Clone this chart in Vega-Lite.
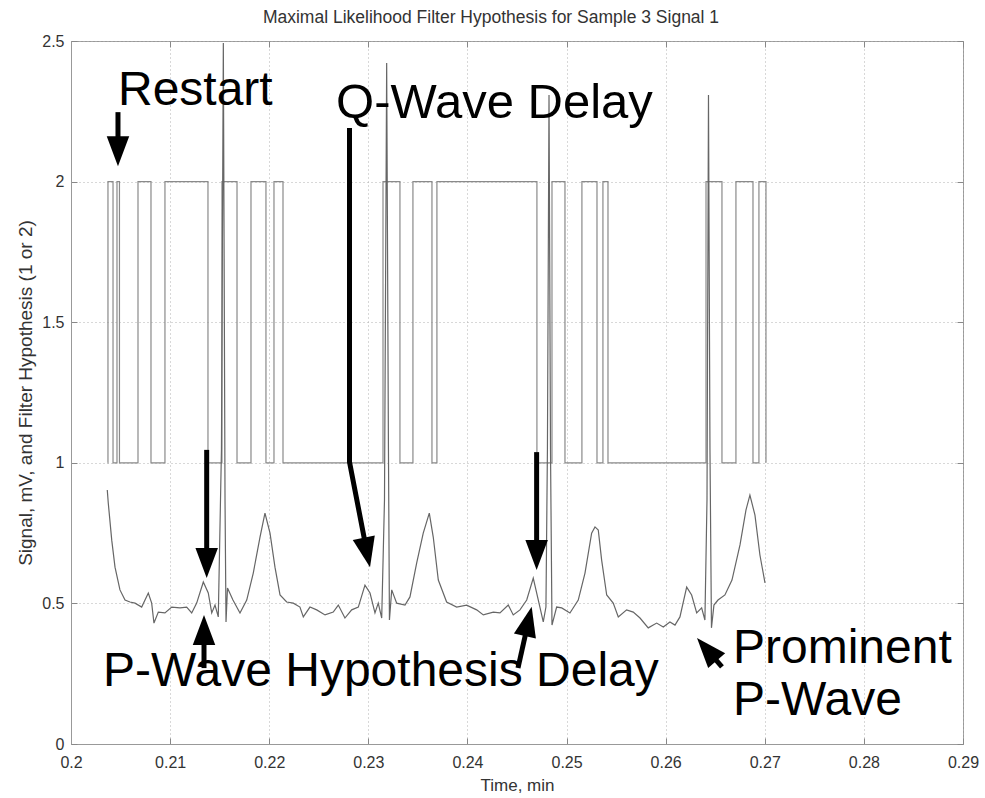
{
  "$schema": "https://vega.github.io/schema/vega-lite/v6.json",
  "width": 892,
  "height": 703,
  "autosize": {"type": "none"},
  "padding": {"left": 71, "top": 41, "right": 22, "bottom": 54},
  "background": "white",
  "title": {"text": "Maximal Likelihood Filter Hypothesis for Sample 3 Signal 1", "fontSize": 17.5, "fontWeight": "normal", "color": "#333333", "font": "Liberation Sans", "offset": 7, "dx": -26},
  "datasets": {
    "hyp": [
      {"t": 0.20370, "v": 1}, {"t": 0.20373, "v": 2}, {"t": 0.20424, "v": 1}, {"t": 0.20464, "v": 2}, {"t": 0.20489, "v": 1},
      {"t": 0.20676, "v": 2}, {"t": 0.20807, "v": 1}, {"t": 0.20948, "v": 2}, {"t": 0.21382, "v": 1}, {"t": 0.21523, "v": 2},
      {"t": 0.21675, "v": 1}, {"t": 0.21816, "v": 2}, {"t": 0.21967, "v": 1}, {"t": 0.22048, "v": 2}, {"t": 0.22139, "v": 1},
      {"t": 0.23148, "v": 2}, {"t": 0.23319, "v": 1}, {"t": 0.23450, "v": 2}, {"t": 0.23642, "v": 1}, {"t": 0.23692, "v": 2},
      {"t": 0.24701, "v": 1}, {"t": 0.24853, "v": 2}, {"t": 0.24984, "v": 1}, {"t": 0.25155, "v": 2}, {"t": 0.25307, "v": 1},
      {"t": 0.25367, "v": 2}, {"t": 0.25418, "v": 1}, {"t": 0.26407, "v": 2}, {"t": 0.26568, "v": 1}, {"t": 0.26709, "v": 2},
      {"t": 0.26881, "v": 1}, {"t": 0.26941, "v": 2}, {"t": 0.27012, "v": 1}
    ],
    "sig": [
      {"t": 0.20366, "v": 0.903}, {"t": 0.20376, "v": 0.857}, {"t": 0.20411, "v": 0.725}, {"t": 0.20444, "v": 0.629}, {"t": 0.20494, "v": 0.548},
      {"t": 0.20545, "v": 0.512}, {"t": 0.20595, "v": 0.505}, {"t": 0.20646, "v": 0.501}, {"t": 0.20713, "v": 0.487}, {"t": 0.20780, "v": 0.537},
      {"t": 0.20814, "v": 0.501}, {"t": 0.20837, "v": 0.430}, {"t": 0.20881, "v": 0.469}, {"t": 0.20948, "v": 0.466}, {"t": 0.21016, "v": 0.487},
      {"t": 0.21100, "v": 0.484}, {"t": 0.21167, "v": 0.487}, {"t": 0.21218, "v": 0.466}, {"t": 0.21268, "v": 0.501}, {"t": 0.21335, "v": 0.576},
      {"t": 0.21385, "v": 0.537}, {"t": 0.21420, "v": 0.466}, {"t": 0.21453, "v": 0.494}, {"t": 0.21486, "v": 0.452}, {"t": 0.21518, "v": 1.046},
      {"t": 0.21537, "v": 2.493}, {"t": 0.21554, "v": 0.868}, {"t": 0.21564, "v": 0.434}, {"t": 0.21579, "v": 0.555}, {"t": 0.21634, "v": 0.512},
      {"t": 0.21705, "v": 0.466}, {"t": 0.21773, "v": 0.512}, {"t": 0.21839, "v": 0.608}, {"t": 0.21907, "v": 0.736}, {"t": 0.21957, "v": 0.821},
      {"t": 0.22008, "v": 0.750}, {"t": 0.22058, "v": 0.629}, {"t": 0.22109, "v": 0.530}, {"t": 0.22176, "v": 0.505}, {"t": 0.22243, "v": 0.501},
      {"t": 0.22310, "v": 0.487}, {"t": 0.22344, "v": 0.452}, {"t": 0.22411, "v": 0.487}, {"t": 0.22479, "v": 0.477}, {"t": 0.22563, "v": 0.459},
      {"t": 0.22646, "v": 0.469}, {"t": 0.22697, "v": 0.494}, {"t": 0.22764, "v": 0.448}, {"t": 0.22832, "v": 0.477}, {"t": 0.22899, "v": 0.487},
      {"t": 0.22966, "v": 0.565}, {"t": 0.23017, "v": 0.537}, {"t": 0.23067, "v": 0.466}, {"t": 0.23100, "v": 0.501}, {"t": 0.23135, "v": 0.448},
      {"t": 0.23163, "v": 0.868}, {"t": 0.23185, "v": 2.422}, {"t": 0.23203, "v": 1.046}, {"t": 0.23213, "v": 0.441}, {"t": 0.23236, "v": 0.548},
      {"t": 0.23286, "v": 0.501}, {"t": 0.23370, "v": 0.494}, {"t": 0.23420, "v": 0.523}, {"t": 0.23488, "v": 0.644}, {"t": 0.23554, "v": 0.750},
      {"t": 0.23615, "v": 0.821}, {"t": 0.23655, "v": 0.736}, {"t": 0.23706, "v": 0.583}, {"t": 0.23790, "v": 0.505}, {"t": 0.23891, "v": 0.487},
      {"t": 0.23992, "v": 0.494}, {"t": 0.24093, "v": 0.477}, {"t": 0.24160, "v": 0.459}, {"t": 0.24261, "v": 0.469}, {"t": 0.24328, "v": 0.466},
      {"t": 0.24412, "v": 0.494}, {"t": 0.24462, "v": 0.459}, {"t": 0.24530, "v": 0.477}, {"t": 0.24598, "v": 0.512}, {"t": 0.24664, "v": 0.590},
      {"t": 0.24715, "v": 0.512}, {"t": 0.24765, "v": 0.434}, {"t": 0.24792, "v": 0.487}, {"t": 0.24807, "v": 1.046}, {"t": 0.24823, "v": 2.308},
      {"t": 0.24838, "v": 1.046}, {"t": 0.24853, "v": 0.423}, {"t": 0.24900, "v": 0.487}, {"t": 0.24951, "v": 0.484}, {"t": 0.25034, "v": 0.466},
      {"t": 0.25118, "v": 0.512}, {"t": 0.25186, "v": 0.608}, {"t": 0.25253, "v": 0.750}, {"t": 0.25287, "v": 0.772}, {"t": 0.25320, "v": 0.761},
      {"t": 0.25354, "v": 0.654}, {"t": 0.25405, "v": 0.530}, {"t": 0.25471, "v": 0.501}, {"t": 0.25522, "v": 0.452}, {"t": 0.25606, "v": 0.477},
      {"t": 0.25673, "v": 0.469}, {"t": 0.25741, "v": 0.448}, {"t": 0.25824, "v": 0.413}, {"t": 0.25909, "v": 0.430}, {"t": 0.25976, "v": 0.416},
      {"t": 0.26043, "v": 0.434}, {"t": 0.26094, "v": 0.423}, {"t": 0.26144, "v": 0.452}, {"t": 0.26212, "v": 0.558}, {"t": 0.26262, "v": 0.530},
      {"t": 0.26313, "v": 0.466}, {"t": 0.26363, "v": 0.484}, {"t": 0.26396, "v": 0.441}, {"t": 0.26417, "v": 0.868}, {"t": 0.26432, "v": 2.308},
      {"t": 0.26447, "v": 1.046}, {"t": 0.26462, "v": 0.413}, {"t": 0.26487, "v": 0.494}, {"t": 0.26528, "v": 0.512}, {"t": 0.26598, "v": 0.530},
      {"t": 0.26669, "v": 0.583}, {"t": 0.26750, "v": 0.708}, {"t": 0.26810, "v": 0.832}, {"t": 0.26850, "v": 0.885}, {"t": 0.26901, "v": 0.814},
      {"t": 0.26951, "v": 0.672}, {"t": 0.27002, "v": 0.573}
    ],
    "shafts": [
      {"arrow": "A1", "seq": 1, "t": 0.20474, "v": 2.247}, {"arrow": "A1", "seq": 2, "t": 0.20474, "v": 2.098},
      {"arrow": "A2", "seq": 1, "t": 0.22810, "v": 2.191}, {"arrow": "A2", "seq": 2, "t": 0.22810, "v": 1.003}, {"arrow": "A2", "seq": 3, "t": 0.22992, "v": 0.671},
      {"arrow": "A3", "seq": 1, "t": 0.21369, "v": 1.046}, {"arrow": "A3", "seq": 2, "t": 0.21369, "v": 0.633},
      {"arrow": "A4", "seq": 1, "t": 0.21342, "v": 0.270}, {"arrow": "A4", "seq": 2, "t": 0.21342, "v": 0.416},
      {"arrow": "A5", "seq": 1, "t": 0.24698, "v": 1.038}, {"arrow": "A5", "seq": 2, "t": 0.24698, "v": 0.661},
      {"arrow": "A6", "seq": 1, "t": 0.24510, "v": 0.270}, {"arrow": "A6", "seq": 2, "t": 0.24622, "v": 0.447},
      {"arrow": "A7", "seq": 1, "t": 0.26568, "v": 0.274}, {"arrow": "A7", "seq": 2, "t": 0.26394, "v": 0.345}
    ],
    "heads": [
      {"arrow": "A1", "t": 0.20474, "v": 2.055},
      {"arrow": "A2", "t": 0.23017, "v": 0.629},
      {"arrow": "A3", "t": 0.21369, "v": 0.590},
      {"arrow": "A4", "t": 0.21342, "v": 0.459},
      {"arrow": "A5", "t": 0.24698, "v": 0.619},
      {"arrow": "A6", "t": 0.24648, "v": 0.488},
      {"arrow": "A7", "t": 0.26316, "v": 0.377}
    ],
    "labels48": [
      {"label": "Restart", "t": 0.20474, "v": 2.272},
      {"label": "P-Wave Hypothesis Delay", "t": 0.20323, "v": 0.206},
      {"label": "Prominent", "t": 0.26679, "v": 0.288},
      {"label": "P-Wave", "t": 0.26679, "v": 0.103}
    ],
    "labels49": [
      {"label": "Q-Wave Delay", "t": 0.22674, "v": 2.226}
    ]
  },
  "layer": [
    {
      "encoding": {
        "x": {
          "field": "t", "type": "quantitative",
          "scale": {"domain": [0.2, 0.29], "nice": false, "zero": false},
          "axis": {
            "title": "Time, min", "values": [0.2, 0.21, 0.22, 0.23, 0.24, 0.25, 0.26, 0.27, 0.28, 0.29], "format": "~g",
            "tickSize": -6, "tickColor": "#888888", "domainColor": "#999999", "labelFontSize": 16, "labelColor": "#333333",
            "labelPadding": 16, "labelFlush": false, "grid": true, "gridDash": [1, 3], "gridColor": "#b0b0b0",
            "titleFontSize": 17, "titleFontWeight": "normal", "titleColor": "#333333", "titlePadding": 7
          }
        },
        "y": {
          "field": "v", "type": "quantitative",
          "scale": {"domain": [0, 2.5], "nice": false, "zero": false},
          "axis": {
            "title": "Signal, mV, and Filter Hypothesis (1 or 2)", "values": [0, 0.5, 1, 1.5, 2, 2.5], "format": "~g",
            "tickSize": -6, "tickColor": "#888888", "domainColor": "#999999", "labelFontSize": 16, "labelColor": "#333333",
            "labelPadding": 13, "labelFlush": false, "grid": true, "gridDash": [1, 3], "gridColor": "#b0b0b0",
            "titleFontSize": 19, "titleFontWeight": "normal", "titleColor": "#333333", "titlePadding": 6
          }
        }
      },
      "layer": [
        {"data": {"name": "hyp"}, "mark": {"type": "line", "interpolate": "step-after", "color": "#8a8a8a", "strokeWidth": 1.2}},
        {"data": {"name": "sig"}, "mark": {"type": "line", "color": "#666666", "strokeWidth": 1.2}},
        {"data": {"name": "shafts"}, "mark": {"type": "line", "color": "black", "strokeWidth": 5, "strokeCap": "butt"},
         "encoding": {"detail": {"field": "arrow"}, "order": {"field": "seq", "type": "quantitative"}}},
        {"data": {"name": "heads"}, "transform": [{"filter": {"field": "arrow", "oneOf": ["A1", "A3", "A5"]}}],
         "mark": {"type": "point", "shape": "M0,0L-0.75,2L0.75,2Z", "size": 900, "filled": true, "color": "black", "opacity": 1, "strokeWidth": 0, "angle": 180}},
        {"data": {"name": "heads"}, "transform": [{"filter": {"field": "arrow", "equal": "A2"}}],
         "mark": {"type": "point", "shape": "M0,0L-0.75,2L0.75,2Z", "size": 900, "filled": true, "color": "black", "opacity": 1, "strokeWidth": 0, "angle": 168}},
        {"data": {"name": "heads"}, "transform": [{"filter": {"field": "arrow", "equal": "A4"}}],
         "mark": {"type": "point", "shape": "M0,0L-0.75,2L0.75,2Z", "size": 900, "filled": true, "color": "black", "opacity": 1, "strokeWidth": 0, "angle": 0}},
        {"data": {"name": "heads"}, "transform": [{"filter": {"field": "arrow", "equal": "A6"}}],
         "mark": {"type": "point", "shape": "M0,0L-0.75,2L0.75,2Z", "size": 900, "filled": true, "color": "black", "opacity": 1, "strokeWidth": 0, "angle": 13}},
        {"data": {"name": "heads"}, "transform": [{"filter": {"field": "arrow", "equal": "A7"}}],
         "mark": {"type": "point", "shape": "M0,0L-0.75,2L0.75,2Z", "size": 900, "filled": true, "color": "black", "opacity": 1, "strokeWidth": 0, "angle": 319}},
        {"data": {"name": "labels48"}, "mark": {"type": "text", "align": "left", "baseline": "alphabetic", "font": "Liberation Sans", "fontSize": 48, "color": "black"},
         "encoding": {"text": {"field": "label"}}},
        {"data": {"name": "labels49"}, "mark": {"type": "text", "align": "left", "baseline": "alphabetic", "font": "Liberation Sans", "fontSize": 49, "color": "black"},
         "encoding": {"text": {"field": "label"}}}
      ]
    },
    {
      "data": {"name": "hyp"},
      "mark": {"type": "point", "opacity": 0},
      "encoding": {
        "x": {"field": "t", "type": "quantitative", "scale": {"domain": [0.2, 0.29], "nice": false, "zero": false},
              "axis": {"orient": "top", "title": null, "labels": false, "grid": false, "domain": false, "tickSize": -6, "tickColor": "#888888",
                       "values": [0.2, 0.21, 0.22, 0.23, 0.24, 0.25, 0.26, 0.27, 0.28, 0.29]}},
        "y": {"field": "v", "type": "quantitative", "scale": {"domain": [0, 2.5], "nice": false, "zero": false},
              "axis": {"orient": "right", "title": null, "labels": false, "grid": false, "domain": false, "tickSize": -6, "tickColor": "#888888",
                       "values": [0, 0.5, 1, 1.5, 2, 2.5]}}
      }
    }
  ],
  "resolve": {"axis": {"x": "independent", "y": "independent"}},
  "config": {
    "font": "Liberation Sans",
    "view": {"stroke": "#999999", "strokeWidth": 1},
    "axis": {"labelFont": "Liberation Sans", "titleFont": "Liberation Sans"}
  }
}
